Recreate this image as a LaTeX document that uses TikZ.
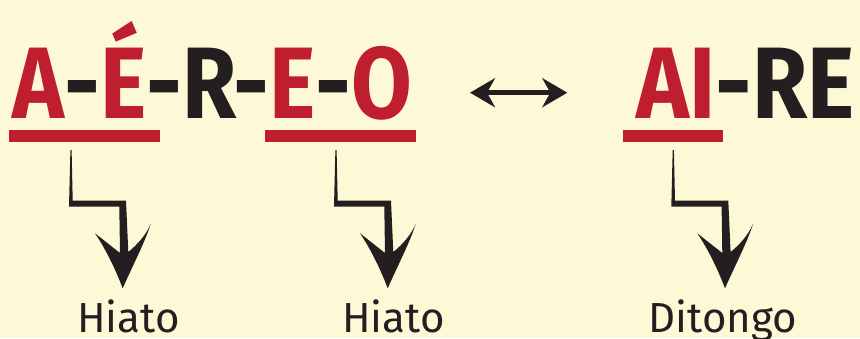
\documentclass[tikz,border=0pt]{standalone}
\usepackage{fontspec}
\usepackage{graphicx}
\setmainfont{Fira Sans}
\usetikzlibrary{arrows.meta}
\definecolor{bgc}{HTML}{FDF8D6}
\definecolor{vred}{HTML}{BE1E2D}
\definecolor{ink}{HTML}{231F20}
\tikzset{
  bar/.style={fill=vred, draw=none, inner sep=0, minimum height=12pt},
  lbl/.style={anchor=base, inner sep=0, text=ink, font=\fontsize{42}{42}\selectfont},
  word/.style={anchor=base, inner sep=0, text=ink},
  zz/.pic={
    \fill[ink] (-0.6,0) -- (0.6,0) -- (1.7,50.7) -- (55,50.7) -- (57.3,102)
      .. controls (66,95) and (75,85) .. (79.7,74)
      .. controls (74,92) and (62,115) .. (51.7,138.3)
      .. controls (44,118) and (34,98) .. (24,83.3)
      -- (49,103) -- (48.3,56.7) -- (-2,56.7) -- cycle;
  }
}
\newcommand\bigtxt{\fontsize{101.6}{101.6}\selectfont\bfseries}
\begin{document}
\begin{tikzpicture}[x=1pt,y=-1pt]
\fill[bgc] (0,0) rectangle (860,338);
\useasboundingbox (0,0) rectangle (860,338);
% words
\node[word] (w1) at (212.5,118) {\resizebox{400pt}{\height}{\bigtxt\textcolor{vred}{A}-\textcolor{vred}{É}-R-\textcolor{vred}{E}-\textcolor{vred}{O}}};
\node[word] (w2) at (745.5,118) {\resizebox{218pt}{\height}{\bigtxt\textcolor{vred}{AI}-RE}};
% underlines
\node[bar, minimum width=151pt] (u1) at (84.5,136) {};
\node[bar, minimum width=151pt] (u2) at (340.5,136) {};
\node[bar, minimum width=100pt] (u3) at (673,136) {};
% double arrow
\coordinate (dl) at (470,92.7);
\coordinate (dr) at (567.3,92.7);
\draw[ink, line width=4.5pt, {Stealth[length=25pt,width=29pt,inset=8pt]}-{Stealth[length=25pt,width=29pt,inset=8pt]}] (dl) -- (dr);
% zigzag arrows
\coordinate (s1) at (71,150);
\coordinate (s2) at (336,150);
\coordinate (s3) at (673.3,150);
\pic at (s1) {zz};
\pic at (s2) {zz};
\pic at (s3) {zz};
% labels
\node[lbl] (h1) at (128.5,332) {Hiato};
\node[lbl] (h2) at (393.5,332) {Hiato};
\node[lbl] (d1) at (723,332) {Ditongo};
\end{tikzpicture}
\end{document}
